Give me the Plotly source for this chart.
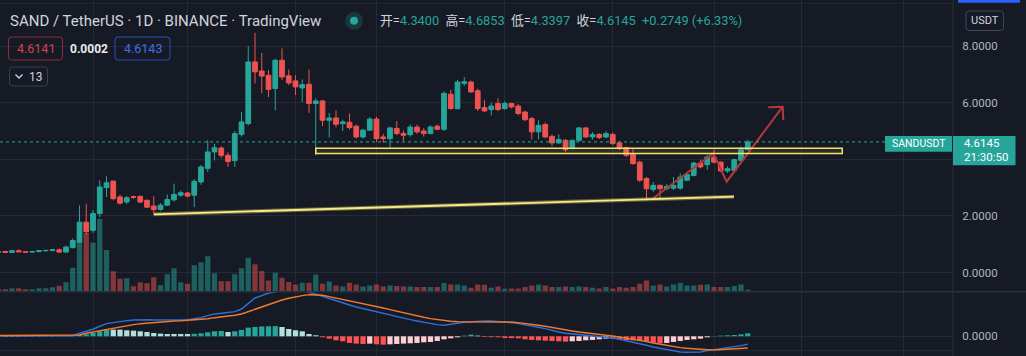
import pandas as pd
import plotly.graph_objects as go

W, H = 1026, 356
SCALE_X = 953  # left edge of the price scale, px

# ---------------- data ----------------
DATES = pd.date_range("2021-10-18", "2022-02-06", freq="D")

OPEN = [0.72, 0.74, 0.71, 0.77, 0.73, 0.72, 0.74, 0.77, 0.78, 0.80,
        0.72, 0.88, 1.07, 1.78, 1.49, 2.08, 3.00, 3.23, 2.67, 2.49,
        2.68, 2.69, 2.55, 2.35, 2.23, 2.38, 2.57, 2.73, 2.81, 2.73,
        3.20, 3.68, 4.26, 4.40, 4.14, 3.95, 4.88, 5.26, 7.44, 7.12,
        6.97, 6.50, 7.50, 6.95, 6.77, 6.52, 6.65, 5.97, 6.06, 5.38,
        5.46, 5.26, 5.31, 5.17, 4.79, 5.03, 5.42, 4.79, 4.73, 5.09,
        4.91, 4.87, 5.14, 5.00, 4.91, 5.17, 5.06, 6.30, 5.79, 6.68,
        6.73, 6.42, 5.83, 5.76, 5.97, 5.79, 5.97, 5.88, 5.67, 5.44,
        4.97, 5.23, 4.81, 4.58, 4.67, 4.38, 4.67, 5.11, 4.79, 4.88,
        4.79, 4.88, 4.58, 4.41, 4.20, 3.90, 3.32, 2.93, 3.08, 2.96,
        2.98, 2.98, 3.26, 3.43, 3.87, 3.81, 4.08, 3.90, 3.59, 3.61,
        3.96, 4.3400]
HIGH = [0.76, 0.77, 0.80, 0.82, 0.76, 0.76, 0.79, 0.80, 0.82, 0.85,
        0.95, 1.20, 2.37, 2.43, 2.20, 3.26, 3.40, 3.25, 2.75, 2.70,
        2.72, 2.72, 2.58, 2.70, 2.45, 2.76, 3.14, 2.90, 2.85, 3.30,
        3.80, 4.67, 4.55, 4.45, 4.25, 5.00, 5.67, 8.00, 8.47, 7.76,
        7.15, 7.56, 7.92, 7.17, 6.97, 6.82, 7.17, 6.15, 6.10, 5.64,
        5.73, 5.40, 5.62, 5.23, 5.08, 5.49, 5.50, 4.90, 5.15, 5.35,
        5.02, 5.23, 5.23, 5.10, 5.20, 5.23, 6.40, 6.45, 6.80, 6.91,
        6.78, 6.50, 6.10, 6.00, 6.15, 6.05, 6.00, 5.95, 5.72, 5.50,
        5.38, 5.30, 4.88, 4.88, 4.72, 4.70, 5.15, 5.13, 4.96, 4.92,
        4.99, 4.95, 4.62, 4.45, 4.38, 3.95, 3.38, 3.20, 3.10, 3.12,
        3.37, 3.50, 3.55, 3.90, 3.98, 4.16, 4.34, 3.93, 3.75, 4.02,
        4.45, 4.6853]
LOW = [0.70, 0.69, 0.69, 0.72, 0.70, 0.70, 0.72, 0.73, 0.75, 0.69,
       0.70, 0.85, 1.05, 1.35, 1.40, 1.95, 2.67, 2.55, 2.40, 2.42,
       2.60, 2.45, 2.28, 2.02, 2.18, 2.35, 2.50, 2.68, 2.65, 2.31,
       3.10, 3.55, 3.96, 4.05, 3.73, 3.73, 4.80, 5.20, 6.68, 6.33,
       6.20, 5.73, 6.80, 6.62, 6.27, 6.03, 5.64, 4.14, 5.17, 4.77,
       5.13, 5.00, 5.05, 4.73, 4.73, 5.00, 4.61, 4.58, 4.41, 4.85,
       4.65, 4.80, 4.90, 4.80, 4.88, 5.03, 5.00, 5.76, 5.76, 6.60,
       6.35, 5.71, 5.67, 5.55, 5.70, 5.75, 5.80, 5.55, 5.35, 4.70,
       4.70, 4.75, 4.46, 4.55, 4.26, 4.35, 4.62, 4.75, 4.70, 4.72,
       4.74, 4.50, 4.32, 4.08, 3.80, 3.20, 2.55, 2.85, 2.61, 2.90,
       2.92, 2.93, 3.24, 3.40, 3.68, 3.63, 3.85, 3.55, 3.52, 3.58,
       3.90, 4.3397]
CLOSE = [0.74, 0.71, 0.77, 0.73, 0.72, 0.74, 0.77, 0.78, 0.80, 0.72,
         0.90, 1.13, 1.78, 1.45, 2.08, 3.02, 3.17, 2.61, 2.45, 2.64,
         2.66, 2.49, 2.31, 2.22, 2.38, 2.58, 2.76, 2.82, 2.70, 3.22,
         3.73, 4.26, 4.41, 4.14, 3.92, 4.91, 5.32, 7.44, 7.09, 6.94,
         6.47, 7.50, 6.91, 6.70, 6.56, 6.64, 5.97, 6.06, 5.38, 5.46,
         5.24, 5.32, 5.12, 4.79, 5.03, 5.42, 4.73, 4.73, 5.11, 4.91,
         4.85, 5.14, 4.97, 4.91, 5.14, 5.06, 6.33, 5.79, 6.73, 6.74,
         6.38, 5.79, 5.71, 5.88, 5.76, 5.97, 5.85, 5.62, 5.40, 4.97,
         5.20, 4.79, 4.58, 4.70, 4.34, 4.67, 5.11, 4.79, 4.88, 4.77,
         4.91, 4.56, 4.38, 4.14, 3.85, 3.26, 2.96, 3.08, 2.96, 3.04,
         3.08, 3.37, 3.46, 3.87, 3.73, 4.08, 3.90, 3.59, 3.67, 3.99,
         4.3396, 4.6145]
VOLUME = [25, 25, 35, 35, 25, 25, 35, 35, 45, 60,
          95, 240, 507, 590, 490, 727, 417, 205, 130, 135,
          55, 95, 85, 145, 65, 175, 235, 95, 80, 265,
          295, 355, 185, 105, 105, 175, 235, 340, 275, 207,
          113, 190, 140, 97, 73, 90, 90, 173, 80, 103,
          63, 53, 90, 73, 53, 63, 73, 53, 63, 57,
          53, 53, 47, 47, 47, 47, 87, 73, 73, 63,
          40, 73, 70, 40, 53, 30, 33, 33, 47, 63,
          73, 63, 47, 47, 53, 47, 53, 47, 40, 33,
          47, 33, 47, 40, 47, 80, 113, 63, 73, 53,
          73, 87, 63, 63, 70, 73, 47, 47, 47, 57,
          73, 20]
MACD = [0.02, 0.02, 0.02, 0.02, 0.02, 0.02, 0.02, 0.02, 0.02, 0.02,
        0.02, 0.02, 0.09, 0.14,
        0.21, 0.30, 0.38, 0.41, 0.45, 0.47, 0.49, 0.50, 0.50, 0.49,
        0.49, 0.49, 0.49, 0.50, 0.50, 0.53, 0.56, 0.62, 0.67, 0.69,
        0.71, 0.74, 0.82, 0.98, 1.15, 1.22, 1.30, 1.33, 1.42, 1.47,
        1.45, 1.38, 1.32, 1.26, 1.20, 1.13, 1.06, 1.00, 0.94, 0.88,
        0.83, 0.78, 0.73, 0.68, 0.63, 0.58, 0.54, 0.50, 0.46, 0.42,
        0.38, 0.35, 0.33, 0.35, 0.39, 0.42, 0.44, 0.45, 0.46, 0.46,
        0.45, 0.43, 0.41, 0.38, 0.35, 0.31, 0.27, 0.23, 0.17, 0.13,
        0.09, 0.07, 0.05, 0.03, 0.01, 0.00, -0.02, -0.05, -0.09, -0.13,
        -0.17, -0.22, -0.27, -0.32, -0.36, -0.41, -0.45, -0.47, -0.48, -0.48,
        -0.47, -0.43, -0.40, -0.38, -0.36, -0.33, -0.28, -0.24]
SIGNAL = [0.02, 0.02, 0.02, 0.02, 0.02, 0.02, 0.02, 0.02, 0.02, 0.02,
          0.02, 0.02, 0.04, 0.09,
          0.13, 0.17, 0.20, 0.25, 0.29, 0.33, 0.35, 0.38, 0.40, 0.42,
          0.44, 0.45, 0.46, 0.47, 0.48, 0.49, 0.51, 0.53, 0.56, 0.58,
          0.61, 0.63, 0.67, 0.74, 0.82, 0.87, 0.94, 1.03, 1.09, 1.14,
          1.19, 1.22, 1.25, 1.25, 1.23, 1.19, 1.15, 1.10, 1.06, 1.02,
          0.98, 0.94, 0.90, 0.85, 0.80, 0.75, 0.70, 0.66, 0.61, 0.57,
          0.53, 0.50, 0.47, 0.45, 0.44, 0.44, 0.44, 0.45, 0.45, 0.45,
          0.44, 0.43, 0.43, 0.41, 0.39, 0.36, 0.33, 0.30, 0.26, 0.23,
          0.19, 0.16, 0.13, 0.10, 0.08, 0.05, 0.03, 0.01, -0.02, -0.05,
          -0.09, -0.13, -0.16, -0.20, -0.24, -0.28, -0.31, -0.34, -0.36, -0.38,
          -0.39, -0.40, -0.41, -0.40, -0.395, -0.38, -0.37, -0.35]
HIST = [-0.014, -0.013, -0.012, -0.011, -0.010, -0.009, -0.008, -0.007, -0.006, -0.005,
        0.01, 0.02, 0.04, 0.06,
        0.10, 0.15, 0.21, 0.20, 0.20, 0.18, 0.17, 0.15, 0.13, 0.10,
        0.08, 0.07, 0.07, 0.07, 0.07, 0.075, 0.09, 0.12, 0.15, 0.16,
        0.13, 0.15, 0.19, 0.26, 0.28, 0.295, 0.30, 0.305, 0.28, 0.22,
        0.18, 0.15, 0.07, 0.03, -0.03, -0.07, -0.12, -0.15, -0.20, -0.22,
        -0.23, -0.22, -0.24, -0.25, -0.24, -0.23, -0.22, -0.21, -0.20, -0.18,
        -0.17, -0.14, -0.09, -0.06, -0.03, 0.02, 0.05, 0.02, -0.02, -0.025,
        -0.03, -0.05, -0.055, -0.06, -0.09, -0.11, -0.12, -0.13, -0.14, -0.15,
        -0.16, -0.15, -0.14, -0.12, -0.11, -0.09, -0.07, -0.075, -0.09, -0.11,
        -0.12, -0.14, -0.16, -0.19, -0.21, -0.20, -0.17, -0.14, -0.11, -0.09,
        -0.07, -0.03, 0.01, 0.02, 0.03, 0.04, 0.06, 0.09]

PRICE_TICKS = [0, 2, 4, 6, 8]
PRICE_TICK_TEXT = ["0.0000", "2.0000", "", "6.0000", "8.0000"]
MACD_TICKS = [-0.44, 0]
MACD_TICK_TEXT = ["", "0.0000"]
GRID_DATES = ["2021-11-01", "2021-11-15", "2021-12-01", "2021-12-13", "2022-01-01",
              "2022-01-17", "2022-02-01", "2022-02-14", "2022-03-01"]
X_RANGE = ["2021-10-18 05:20", "2022-03-08 09:47"]

# drawings (date, price)
TREND_X = ["2021-11-10 01:00", "2022-02-03 23:00"]
TREND_Y = [2.057, 2.678]
ZONE_X = ["2021-12-04", "2022-02-20"]
ZONE_Y = [4.205, 4.389]
ARROW_X = ["2022-01-23 00:00", "2022-01-31 21:36", "2022-02-02 21:00", "2022-02-11 04:20"]
ARROW_Y = [2.622, 4.212, 3.208, 5.859]
HEAD_X = ["2022-02-09 01:00", "2022-02-11 04:20", "2022-02-11 06:30"]
HEAD_Y = [5.837, 5.859, 5.389]

BID, SPREAD, ASK = 4.6141, 0.0002, 4.6143
COUNTDOWN = "21:30:50"
SYMBOL = "SANDUSDT"
TITLE = "SAND / TetherUS · 1D · BINANCE · TradingView"

# ---------------- styling ----------------
BG = "#161a25"
GRID = "#252935"
TXT = "#d1d4dc"
AXT = "#b2b5be"
UP = "#26a69a"
DN = "#ef5350"
FONT = "Roboto, 'Noto Sans CJK SC', sans-serif"
DAY_MS = 86400000


def X(px):
    return px / W


def Y(py):
    return 1 - py / H


def rrect(x0, y0, x1, y1, r):
    return (f"M{X(x0 + r)},{Y(y0)} L{X(x1 - r)},{Y(y0)} Q{X(x1)},{Y(y0)} {X(x1)},{Y(y0 + r)} "
            f"L{X(x1)},{Y(y1 - r)} Q{X(x1)},{Y(y1)} {X(x1 - r)},{Y(y1)} "
            f"L{X(x0 + r)},{Y(y1)} Q{X(x0)},{Y(y1)} {X(x0)},{Y(y1 - r)} "
            f"L{X(x0)},{Y(y0 + r)} Q{X(x0)},{Y(y0)} {X(x0 + r)},{Y(y0)} Z")


vol_colors = ["rgba(38,166,154,0.5)" if c >= o else "rgba(239,83,80,0.5)"
              for o, c in zip(OPEN, CLOSE)]
hist_colors = []
prev = HIST[0]
for h in HIST:
    if h >= 0:
        hist_colors.append("#26a69a" if h > prev else "#b2dfdb")
    else:
        hist_colors.append("#ffcdd2" if h > prev else "#ff5252")
    prev = h

fig = go.Figure()
# volume on the base axis (drawn underneath), price on the overlaying axis
fig.add_trace(go.Bar(x=DATES, y=VOLUME, width=0.78 * DAY_MS,
                     marker=dict(color=vol_colors, line_width=0),
                     xaxis="x", yaxis="y", hoverinfo="skip"))
fig.add_trace(go.Candlestick(x=DATES, open=OPEN, high=HIGH, low=LOW, close=CLOSE,
                             increasing=dict(line=dict(color=UP, width=1), fillcolor=UP),
                             decreasing=dict(line=dict(color=DN, width=1), fillcolor=DN),
                             whiskerwidth=0, xaxis="x", yaxis="y2", hoverinfo="skip"))
fig.add_trace(go.Scatter(x=pd.to_datetime(ARROW_X), y=ARROW_Y, mode="lines",
                         line=dict(color="#b3383c", width=2), xaxis="x", yaxis="y2",
                         hoverinfo="skip"))
fig.add_trace(go.Scatter(x=pd.to_datetime(HEAD_X), y=HEAD_Y, mode="lines",
                         line=dict(color="#b3383c", width=2), xaxis="x", yaxis="y2",
                         hoverinfo="skip"))
# MACD pane
fig.add_trace(go.Bar(x=DATES, y=HIST, width=0.78 * DAY_MS,
                     marker=dict(color=hist_colors, line_width=0),
                     xaxis="x2", yaxis="y3", hoverinfo="skip"))
fig.add_trace(go.Scatter(x=DATES, y=MACD, mode="lines", line=dict(color="#2d6fd6", width=1.5),
                         xaxis="x2", yaxis="y3", hoverinfo="skip"))
fig.add_trace(go.Scatter(x=DATES, y=SIGNAL, mode="lines", line=dict(color="#ee7a30", width=1.5),
                         xaxis="x2", yaxis="y3", hoverinfo="skip"))

main_dom = [Y(291.7), 1]
macd_dom = [0, Y(292)]
xdom = [0, SCALE_X / W]
price_range = [(272.5 - 291.7) / 28.3, 272.5 / 28.3]
vol_range = [0, 2917]
macd_range = [-(356 - 336.3) * 0.03, (336.3 - 292) * 0.03]

axfont = dict(family=FONT, size=11.5, color=AXT)
xcommon = dict(type="date", range=X_RANGE, domain=xdom, showgrid=True, gridcolor=GRID,
               gridwidth=1, tickvals=GRID_DATES, showticklabels=False, ticks="",
               zeroline=False, showline=False, fixedrange=True)

shapes = []
# price scale border, pane separator, top rule, blue corner bar
shapes.append(dict(type="line", xref="paper", yref="paper", x0=X(953), x1=X(953), y0=0, y1=1,
                   line=dict(color="#2a2e39", width=1)))
shapes.append(dict(type="line", xref="paper", yref="paper", x0=0, x1=1, y0=Y(291.7), y1=Y(291.7),
                   line=dict(color="#2a2e39", width=1.5)))
shapes.append(dict(type="line", xref="paper", yref="paper", x0=0, x1=X(953), y0=Y(3.3), y1=Y(3.3),
                   line=dict(color=GRID, width=1)))
shapes.append(dict(type="rect", xref="paper", yref="paper", x0=X(958), x1=X(1020), y0=Y(2.7), y1=1,
                   fillcolor="#2962ff", line=dict(width=0)))
# drawings
shapes.append(dict(type="rect", xref="x", yref="y2", x0=ZONE_X[0], x1=ZONE_X[1],
                   y0=ZONE_Y[0], y1=ZONE_Y[1], fillcolor="rgba(244,230,106,0.10)",
                   line=dict(color="#f1e36a", width=1.5)))
shapes.append(dict(type="line", xref="x", yref="y2", x0=TREND_X[0], x1=TREND_X[1],
                   y0=TREND_Y[0], y1=TREND_Y[1], line=dict(color="rgba(244,230,106,0.35)", width=4)))
shapes.append(dict(type="line", xref="x", yref="y2", x0=TREND_X[0], x1=TREND_X[1],
                   y0=TREND_Y[0], y1=TREND_Y[1], line=dict(color="#f6eb86", width=1.8)))
# last price dotted line
shapes.append(dict(type="line", xref="paper", yref="y2", x0=0, x1=X(885),
                   y0=CLOSE[-1], y1=CLOSE[-1], line=dict(color=UP, width=1, dash="dot")))
# header dot
shapes.append(dict(type="circle", xref="paper", yref="paper", x0=X(345), x1=X(363),
                   y0=Y(29.8), y1=Y(11.8), fillcolor="rgba(38,166,154,0.22)", line=dict(width=0)))
shapes.append(dict(type="circle", xref="paper", yref="paper", x0=X(350), x1=X(358),
                   y0=Y(24.8), y1=Y(16.8), fillcolor=UP, line=dict(width=0)))
# legend boxes
shapes.append(dict(type="path", xref="paper", yref="paper", path=rrect(8.5, 37, 62.5, 60, 3),
                   line=dict(color="#8e2d34", width=1), fillcolor="rgba(0,0,0,0)"))
shapes.append(dict(type="path", xref="paper", yref="paper", path=rrect(115, 37, 170, 60, 3),
                   line=dict(color="#2b4fbf", width=1), fillcolor="rgba(0,0,0,0)"))
shapes.append(dict(type="path", xref="paper", yref="paper", path=rrect(9.5, 67, 47.5, 86, 3),
                   line=dict(color="#3a3e4a", width=1), fillcolor="rgba(0,0,0,0)"))
shapes.append(dict(type="path", xref="paper", yref="paper",
                   path=f"M{X(15.5)},{Y(74.5)} L{X(19)},{Y(78)} L{X(22.5)},{Y(74.5)}",
                   line=dict(color=TXT, width=1.3), fillcolor="rgba(0,0,0,0)"))
shapes.append(dict(type="path", xref="paper", yref="paper", path=rrect(966, 11, 1003.5, 30.5, 3),
                   line=dict(color="#434651", width=1), fillcolor="rgba(0,0,0,0)"))
# price tags
shapes.append(dict(type="rect", xref="paper", yref="paper", x0=X(885), x1=X(952),
                   y0=Y(151.7), y1=Y(136), fillcolor=UP, line=dict(width=0)))
shapes.append(dict(type="rect", xref="paper", yref="paper", x0=X(953), x1=X(1015.5),
                   y0=Y(165.3), y1=Y(136), fillcolor=UP, line=dict(width=0)))

NB = "\u00a0"
val = lambda v: f"<span style='color:{UP}'>{v}</span>"
chg = CLOSE[-1] - CLOSE[-2]
pct = chg / CLOSE[-2] * 100
ohlc_text = (f"开={val(f'{OPEN[-1]:.4f}')}{NB*2}高={val(f'{HIGH[-1]:.4f}')}{NB*2}"
             f"低={val(f'{LOW[-1]:.4f}')}{NB*2}收={val(f'{CLOSE[-1]:.4f}')}{NB*2}"
             f"{val(f'{chg:+.4f} ({pct:+.2f}%)')}")


def ann(x, y, text, size, color, xanchor="left", bold=False):
    return dict(xref="paper", yref="paper", x=X(x), y=Y(y), text=f"<b>{text}</b>" if bold else text,
                showarrow=False, xanchor=xanchor, yanchor="middle",
                font=dict(family=FONT, size=size, color=color))


annotations = [
    ann(8, 20.8, TITLE, 15, TXT),
    ann(378, 21, ohlc_text, 12.8, TXT),
    ann(35.5, 48.5, f"{BID:.4f}", 12.5, "#d8414a", xanchor="center"),
    ann(88.8, 48.5, f"{SPREAD:.4f}", 12, "#e8eaf0", xanchor="center", bold=True),
    ann(142.5, 48.5, f"{ASK:.4f}", 12.5, "#3d6ff0", xanchor="center"),
    ann(36, 76.5, "13", 12, TXT, xanchor="center"),
    ann(984.7, 20.8, "USDT", 11, TXT, xanchor="center"),
    ann(918.5, 143.8, SYMBOL, 10.5, "#ffffff", xanchor="center"),
    ann(962, 143.5, f"{CLOSE[-1]:.4f}", 11.5, "#ffffff"),
    ann(962, 157.5, COUNTDOWN, 11.5, "#ffffff"),
]

fig.update_layout(
    width=W, height=H, margin=dict(l=0, r=0, t=0, b=0),
    paper_bgcolor=BG, plot_bgcolor=BG, showlegend=False,
    boxgap=0.3, boxgroupgap=0,
    font=dict(family=FONT, color=TXT),
    xaxis=dict(**xcommon, anchor="y", rangeslider=dict(visible=False)),
    xaxis2=dict(**xcommon, anchor="y3", matches="x"),
    yaxis=dict(domain=main_dom, range=vol_range, visible=False, fixedrange=True),
    yaxis2=dict(overlaying="y", side="right", anchor="x", range=price_range,
                tickvals=PRICE_TICKS, ticktext=PRICE_TICK_TEXT, tickfont=axfont,
                showgrid=True, gridcolor=GRID, zeroline=False, showline=False,
                ticks="outside", ticklen=6, tickcolor="rgba(0,0,0,0)", fixedrange=True),
    yaxis3=dict(domain=macd_dom, side="right", anchor="x2", range=macd_range,
                tickvals=MACD_TICKS, ticktext=MACD_TICK_TEXT, tickfont=axfont,
                showgrid=True, gridcolor=GRID, zeroline=False, showline=False,
                ticks="outside", ticklen=6, tickcolor="rgba(0,0,0,0)", fixedrange=True),
    shapes=shapes,
    annotations=annotations,
)

fig.write_html("out.html", config={"displayModeBar": False, "staticPlot": True},
               post_script="document.body.style.margin='0';document.body.style.overflow='hidden';")
